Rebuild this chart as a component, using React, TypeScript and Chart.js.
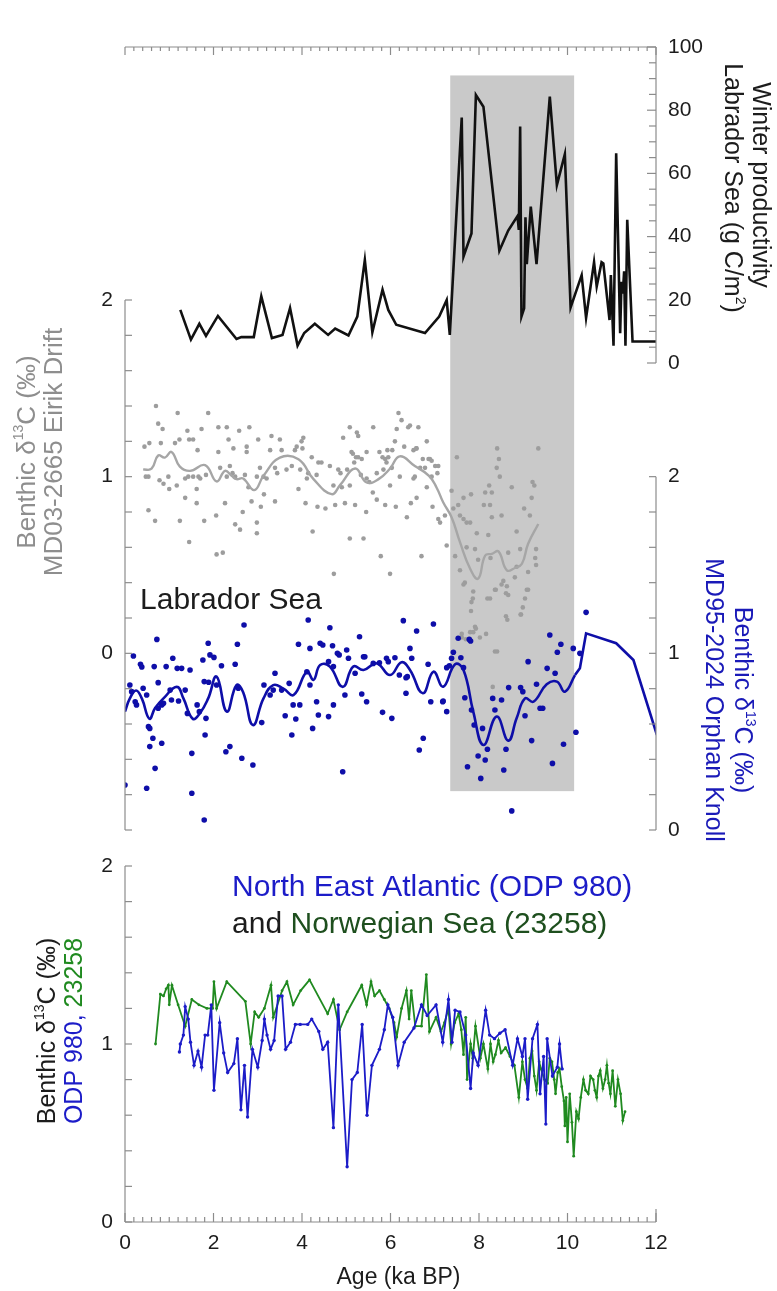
import React, { useEffect, useRef } from "react";
import { Chart, registerables } from "chart.js";

Chart.register(...registerables);

// ---------- page / frame geometry ----------
const W = 777;
const H = 1291;
const AREA = { left: 125, right: 656, top: 47, bottom: 1222 };

// ---------- tick labels ----------
const ageTicks = [0, 2, 4, 6, 8, 10, 12];
const prodTicks = [0, 20, 40, 60, 80, 100];
const eirikTicks = [0, 1, 2];
const orphanTicks = [0, 1, 2];
const bottomTicks = [0, 1, 2];

// ---------- shaded interval (ka BP) ----------
const bandAge = [7.35, 10.15];
const bandProdTop = 91;
const bandEirikBottom = -0.78;

// ---------- Winter productivity, Labrador Sea (g C/m2) ----------
const productivity: [number, number][] = [
  [1.25, 16.8], [1.49, 7.4], [1.68, 12.4], [1.83, 8.6], [2.1, 14.9], [2.52, 7.6], [2.63, 8.2], [2.91, 8.2],
  [3.08, 21.1], [3.32, 7.9], [3.56, 8.9], [3.73, 17.4], [3.9, 5.5], [4.05, 9.5], [4.29, 12.4], [4.59, 8.9],
  [4.75, 10.9], [5.05, 8.7], [5.25, 14.7], [5.42, 32.6], [5.59, 9.7], [5.82, 23.2], [5.95, 16.8], [6.13, 12.1],
  [6.78, 9.5], [7.1, 14.7], [7.27, 19.9], [7.34, 8.9], [7.61, 77.7], [7.65, 33.7], [7.83, 41.0], [7.93, 84.8],
  [8.1, 81.1], [8.46, 35.5], [8.66, 41.9], [8.87, 46.5], [8.9, 42.1], [8.93, 74.8], [8.96, 14.7], [9.02, 17.3],
  [9.05, 46.1], [9.08, 31.3], [9.17, 49.5], [9.3, 31.3], [9.6, 84.3], [9.76, 56.3], [9.94, 66.1], [10.07, 17.6],
  [10.32, 27.8], [10.42, 14.3], [10.6, 31.9], [10.66, 24.2], [10.77, 31.9], [10.81, 31.5], [10.95, 13.6],
  [10.98, 27.8], [11.04, 5.5], [11.1, 66.4], [11.19, 9.4], [11.22, 25.7], [11.25, 22.0], [11.28, 29.0],
  [11.31, 5.5], [11.35, 45.3], [11.47, 6.8], [12.0, 6.8],
];

// ---------- MD03-2665 Eirik Drift benthic d13C ----------
const eirikDots: [number, number][] = [
  [0.7, 1.4], [1.19, 1.36], [1.88, 1.36], [6.18, 1.36], [6.25, 1.32], [0.75, 1.3], [0.85, 1.27], [1.41, 1.26],
  [1.45, 1.21], [1.54, 1.21], [1.73, 1.27], [2.11, 1.28], [2.3, 1.28], [2.58, 1.26], [2.81, 1.28], [3.31, 1.23],
  [3.5, 1.21], [4.03, 1.22], [3.99, 1.2], [3.88, 1.17], [5.08, 1.28], [5.24, 1.25], [5.27, 1.23], [5.61, 1.28],
  [6.14, 1.27], [6.4, 1.28], [6.44, 1.29], [6.63, 1.28], [5.93, 1.15], [5.95, 1.11], [6.31, 1.17], [6.59, 1.16],
  [6.82, 1.2], [0.44, 1.17], [0.55, 1.19], [0.81, 1.19], [1.13, 1.19], [1.23, 1.21], [1.64, 1.15], [2.11, 1.14],
  [2.34, 1.21], [2.45, 1.16], [2.75, 1.17], [2.75, 1.14], [3.01, 1.21], [3.28, 1.15], [3.54, 1.15], [3.84, 1.15],
  [4.01, 1.16], [4.22, 1.11], [4.37, 1.08], [4.44, 1.08], [4.63, 1.06], [4.93, 1.22], [5.12, 1.14], [5.15, 1.13],
  [5.22, 1.11], [5.27, 1.11], [5.35, 1.1], [5.46, 1.14], [5.75, 1.14], [5.82, 1.11], [5.88, 1.1], [6.04, 1.15],
  [6.1, 1.2], [6.52, 1.15], [6.58, 1.16], [6.73, 1.1], [6.86, 1.1], [6.89, 1.1], [6.93, 1.09], [7.01, 1.06],
  [7.08, 1.06], [0.47, 1.0], [0.53, 1.0], [0.78, 0.98], [0.87, 0.96], [0.98, 1.0], [1.36, 0.99], [1.43, 1.0],
  [1.54, 1.0], [1.66, 1.0], [1.7, 0.99], [1.83, 1.01], [2.15, 1.05], [2.3, 1.0], [2.37, 1.06], [2.43, 1.02],
  [2.49, 1.0], [2.71, 1.01], [2.98, 1.0], [3.05, 1.05], [3.13, 1.0], [3.2, 0.99], [3.39, 1.05], [3.44, 1.02],
  [3.65, 1.04], [3.77, 1.06], [3.96, 1.04], [4.11, 0.99], [4.14, 1.02], [4.33, 1.01], [4.71, 0.95], [4.82, 1.04],
  [4.87, 1.02], [5.02, 1.04], [5.08, 0.95], [5.18, 1.08], [5.33, 1.01], [5.46, 0.99], [5.52, 0.97], [5.69, 1.02],
  [5.84, 1.04], [5.91, 1.08], [6.03, 1.05], [6.21, 1.0], [6.52, 0.99], [6.55, 1.0], [6.67, 1.05], [6.78, 1.05],
  [6.93, 1.0], [7.06, 1.02], [0.53, 0.81], [0.68, 0.75], [1.0, 0.93], [1.17, 0.95], [1.24, 0.75], [1.36, 0.88],
  [1.62, 0.85], [1.62, 0.93], [1.79, 0.75], [2.06, 0.78], [2.26, 0.85], [2.49, 0.73], [2.6, 0.7], [2.66, 0.8],
  [2.79, 0.94], [2.86, 0.86], [2.98, 0.74], [2.98, 0.68], [3.07, 0.83], [3.14, 0.9], [3.39, 0.86], [3.92, 0.93],
  [4.08, 0.85], [4.24, 0.69], [4.35, 0.83], [4.53, 0.82], [4.75, 0.84], [4.9, 0.94], [4.97, 0.85], [5.08, 0.65],
  [5.2, 0.84], [5.39, 0.65], [5.45, 0.8], [5.6, 0.91], [5.69, 0.87], [5.78, 0.55], [5.88, 0.84], [5.99, 0.95],
  [6.12, 0.83], [6.37, 0.77], [6.46, 0.85], [6.59, 0.88], [6.7, 0.55], [6.82, 0.94], [6.95, 0.83], [7.08, 0.76],
  [7.12, 0.74], [7.23, 0.78], [7.27, 0.61], [1.45, 0.63], [2.07, 0.56], [2.21, 0.57], [4.72, 0.45], [5.99, 0.45],
  [7.5, 1.11], [7.38, 0.92], [7.42, 0.82], [7.53, 0.84], [7.65, 0.88], [7.82, 0.9], [7.57, 0.78], [7.72, 0.74],
  [7.65, 0.76], [7.8, 0.74], [7.46, 0.55], [7.57, 0.47], [7.68, 0.4], [7.72, 0.6], [7.91, 0.59], [7.95, 0.68],
  [7.98, 0.53], [7.87, 0.35], [7.86, 0.31], [7.82, 0.24], [7.91, 0.15], [8.21, 0.67], [8.11, 0.84], [8.14, 0.91],
  [8.23, 0.95], [8.29, 0.91], [8.25, 0.84], [8.29, 0.77], [8.26, 0.54], [8.41, 1.16], [8.45, 1.1], [8.4, 1.05],
  [8.47, 1.0], [8.51, 0.78], [8.36, 0.36], [8.25, 0.31], [8.19, 0.31], [8.55, 0.41], [8.63, 0.38], [8.66, 0.33],
  [8.74, 0.94], [8.66, 0.57], [8.81, 0.43], [8.85, 0.69], [8.93, 0.59], [8.85, 0.49], [8.95, 0.22], [8.99, 0.26],
  [9.04, 0.31], [9.11, 0.36], [9.11, 0.46], [9.19, 0.88], [9.21, 0.97], [9.25, 0.95], [9.15, 0.78], [9.02, 0.82],
  [9.29, 0.59], [9.27, 0.54], [9.29, 0.5], [9.34, 1.16], [8.61, 0.21], [8.64, 0.19], [7.65, 0.39], [7.83, 0.29],
  [7.93, 0.14], [8.02, 0.09], [8.16, 0.11], [8.38, 0.36], [8.51, 0.39], [8.61, 0.34], [9.08, 0.36], [8.94, 0.22],
  [7.61, 0.11], [7.8, 0.12], [7.7, 0.08], [8.36, 0.01], [8.31, -0.19], [7.61, 0.09], [7.87, 0.12], [8.41, 0.01],
];
const eirikSmooth: [number, number][] = [
  [0.41, 1.04], [0.6, 1.045], [0.75, 1.12], [0.9, 1.108], [1.05, 1.14], [1.24, 1.057], [1.47, 1.033], [1.81, 1.065],
  [2.07, 0.973], [2.26, 1.033], [2.41, 1.005], [2.52, 0.986], [2.67, 0.99], [2.92, 0.924], [3.13, 1.005], [3.5, 1.108],
  [3.92, 1.099], [4.26, 0.986], [4.67, 0.901], [4.86, 0.952], [5.2, 1.046], [5.46, 0.967], [5.73, 0.986], [5.99, 1.046],
  [6.21, 1.115], [6.55, 1.06], [6.87, 1.005], [7.04, 0.939], [7.19, 0.855], [7.38, 0.77], [7.57, 0.629], [7.8, 0.479],
  [7.98, 0.423], [8.14, 0.554], [8.29, 0.563], [8.44, 0.577], [8.63, 0.47], [8.81, 0.483], [8.97, 0.507], [9.11, 0.62],
  [9.34, 0.732],
];

// ---------- MD95-2024 Orphan Knoll benthic d13C ----------
const orphanDots: [number, number][] = [
  [0.0, 0.255], [0.19, 0.985], [0.35, 0.938], [0.38, 0.923], [0.66, 0.925], [0.75, 0.834], [0.93, 0.925], [1.08, 0.972],
  [1.18, 0.915], [1.28, 0.915], [1.76, 0.962], [1.92, 0.991], [2.01, 0.977], [2.18, 0.93], [2.49, 0.938], [3.39, 0.887],
  [3.71, 0.83], [4.11, 0.896], [4.6, 0.953], [4.71, 0.925], [4.84, 0.991], [5.05, 0.972], [5.2, 0.887], [5.39, 0.981],
  [5.42, 0.981], [5.61, 0.943], [5.75, 0.947], [5.91, 0.972], [5.95, 0.953], [6.1, 0.975], [6.2, 0.877], [6.48, 0.972],
  [6.35, 0.862], [6.85, 0.938], [7.27, 0.919], [0.72, 1.079], [1.88, 1.057], [2.54, 1.051], [2.69, 1.16], [3.92, 1.051],
  [4.14, 1.189], [4.18, 1.028], [4.41, 1.057], [4.47, 1.047], [4.63, 1.145], [4.69, 1.043], [4.8, 1.0], [5.01, 1.019],
  [5.3, 1.094], [6.29, 1.185], [6.59, 1.126], [6.97, 1.166], [6.44, 1.028], [0.11, 0.821], [0.15, 0.783], [0.26, 0.708],
  [0.23, 0.726], [0.41, 0.802], [0.49, 0.764], [0.53, 0.585], [0.56, 0.575], [0.63, 0.519], [0.75, 0.689], [0.83, 0.708],
  [0.87, 0.717], [1.02, 0.792], [1.05, 0.736], [1.21, 0.73], [1.36, 0.792], [1.41, 0.66], [1.47, 0.906], [1.63, 0.708],
  [1.68, 0.67], [1.79, 0.84], [1.83, 0.632], [1.89, 0.836], [2.07, 0.821], [2.56, 0.802], [3.09, 0.608], [3.14, 0.821],
  [3.28, 0.764], [3.35, 0.792], [3.54, 0.792], [3.62, 0.647], [3.8, 0.708], [3.86, 0.628], [3.95, 0.708], [4.18, 0.821],
  [4.24, 0.575], [4.33, 0.726], [4.37, 0.651], [4.6, 0.642], [4.71, 0.708], [4.97, 0.764], [5.35, 0.77], [5.46, 0.726],
  [5.82, 0.666], [6.03, 0.632], [6.35, 0.774], [0.56, 0.472], [0.68, 0.349], [0.49, 0.236], [0.83, 0.491], [1.51, 0.434],
  [1.81, 0.538], [2.28, 0.443], [2.37, 0.472], [2.64, 0.406], [2.89, 0.368], [3.77, 0.538], [1.51, 0.208], [1.79, 0.057],
  [4.92, 0.33], [6.65, 0.453], [6.74, 0.519], [7.19, 0.73], [7.27, 0.67], [7.33, 0.93], [7.38, 0.972], [7.42, 1.006],
  [7.53, 1.085], [7.78, 1.079], [7.81, 1.07], [7.59, 0.975], [7.65, 0.919], [7.68, 0.749], [7.83, 0.679], [7.89, 0.594],
  [7.98, 0.419], [8.14, 0.396], [8.19, 0.457], [8.04, 0.292], [7.74, 0.358], [8.08, 0.575], [8.31, 0.745], [8.36, 0.679],
  [8.51, 0.736], [8.61, 0.457], [8.56, 0.34], [8.67, 0.806], [8.94, 0.806], [8.99, 0.783], [9.04, 0.647], [9.11, 0.953],
  [9.19, 0.506], [9.3, 0.825], [9.38, 0.689], [9.44, 0.689], [9.54, 0.915], [9.6, 1.104], [9.72, 0.887], [9.77, 1.006],
  [9.85, 1.051], [9.91, 0.485], [9.66, 0.377], [10.13, 1.028], [10.19, 0.553], [10.28, 1.0], [10.42, 1.232], [8.74, 0.108],
  [6.38, 0.868], [6.91, 0.726], [7.18, 0.726],
];
const orphanSmooth: [number, number][] = [
  [0.0, 0.67], [0.11, 0.745], [0.25, 0.79], [0.38, 0.745], [0.55, 0.63], [0.68, 0.69], [0.87, 0.745], [1.17, 0.81],
  [1.32, 0.745], [1.53, 0.63], [1.69, 0.66], [1.88, 0.745], [2.07, 0.868], [2.3, 0.67], [2.52, 0.82], [2.67, 0.78],
  [2.89, 0.594], [3.13, 0.745], [3.35, 0.82], [3.58, 0.8], [3.81, 0.764], [4.11, 0.896], [4.26, 0.85], [4.41, 0.934],
  [4.63, 0.925], [4.92, 0.81], [5.16, 0.925], [5.39, 0.906], [5.69, 0.943], [5.99, 0.877], [6.25, 0.95], [6.44, 0.906],
  [6.73, 0.774], [6.97, 0.896], [7.19, 0.811], [7.46, 0.938], [7.65, 0.906], [7.87, 0.67], [8.1, 0.481], [8.4, 0.642],
  [8.66, 0.506], [8.85, 0.632], [9.04, 0.745], [9.23, 0.726], [9.53, 0.825], [9.76, 0.84], [9.94, 0.783], [10.17, 0.877],
];
const orphanTail: [number, number][] = [
  [10.17, 0.877], [10.28, 0.915], [10.42, 1.113], [11.1, 1.057], [11.49, 0.962], [12.02, 0.538],
];

// ---------- ODP 980 (North East Atlantic) ----------
const odp980: [number, number][] = [
  [1.23, 0.955], [1.25, 1.0], [1.32, 1.05], [1.36, 1.21], [1.43, 1.14], [1.48, 1.01], [1.56, 0.88], [1.65, 0.96],
  [1.73, 0.87], [1.81, 1.05], [1.87, 1.05], [1.95, 1.22], [2.01, 0.74], [2.14, 1.12], [2.23, 0.95], [2.32, 0.84],
  [2.46, 0.89], [2.54, 1.03], [2.62, 0.63], [2.7, 0.88], [2.77, 0.59], [2.88, 0.97], [3.0, 0.87], [3.1, 1.02],
  [3.15, 1.14], [3.21, 1.05], [3.29, 0.97], [3.37, 1.02], [3.46, 1.27], [3.55, 1.27], [3.63, 0.97], [3.74, 1.01],
  [3.85, 1.11], [3.96, 1.11], [4.13, 1.11], [4.22, 1.14], [4.38, 1.07], [4.47, 0.97], [4.58, 1.01], [4.71, 0.53],
  [4.82, 1.22], [5.02, 0.31], [5.13, 0.8], [5.25, 0.84], [5.36, 1.11], [5.47, 0.6], [5.58, 0.88], [5.75, 0.97],
  [5.86, 1.08], [5.94, 1.22], [6.05, 1.15], [6.17, 0.88], [6.31, 1.01], [6.53, 1.09], [6.7, 1.22], [6.83, 1.16],
  [7.03, 1.22], [7.18, 1.01], [7.31, 1.25], [7.39, 1.01], [7.46, 1.19], [7.57, 1.18], [7.7, 1.05], [7.81, 0.75],
  [7.87, 0.95], [7.98, 0.88], [8.15, 1.19], [8.24, 1.05], [8.35, 1.03], [8.47, 1.06], [8.59, 1.08], [8.76, 0.88],
  [8.87, 1.03], [8.98, 0.93], [9.04, 1.03], [9.1, 0.69], [9.21, 1.03], [9.32, 1.11], [9.38, 0.72], [9.46, 0.93],
  [9.51, 0.55], [9.54, 1.03], [9.66, 0.82], [9.77, 0.87], [9.82, 1.0], [9.88, 0.86],
];

// ---------- 23258 (Norwegian Sea) ----------
const core23258: [number, number][] = [
  [0.69, 1.0], [0.8, 1.28], [0.87, 1.27], [0.93, 1.31], [0.98, 1.33], [1.0, 1.22], [1.06, 1.33], [1.2, 1.22],
  [1.36, 1.1], [1.51, 1.25], [1.67, 1.22], [1.85, 1.2], [1.98, 1.2], [2.01, 1.35], [2.07, 1.2], [2.3, 1.35],
  [2.72, 1.24], [2.84, 1.0], [2.93, 1.18], [3.02, 1.15], [3.15, 1.2], [3.3, 1.33], [3.35, 1.15], [3.55, 1.3],
  [3.66, 1.35], [3.8, 1.22], [3.97, 1.3], [4.17, 1.36], [4.58, 1.17], [4.71, 1.25], [4.85, 1.08], [5.02, 1.18],
  [5.35, 1.33], [5.46, 1.22], [5.56, 1.35], [5.64, 1.27], [5.75, 1.3], [5.86, 1.25], [5.97, 1.2], [6.08, 1.12],
  [6.14, 1.04], [6.25, 1.2], [6.36, 1.3], [6.42, 1.14], [6.47, 1.3], [6.56, 1.1], [6.7, 1.1], [6.81, 1.39],
  [6.88, 1.07], [7.03, 1.15], [7.14, 1.07], [7.22, 1.12], [7.31, 1.2], [7.37, 1.0], [7.45, 1.12], [7.54, 1.17],
  [7.6, 1.08], [7.65, 0.94], [7.7, 1.15], [7.73, 0.8], [7.81, 1.0], [7.86, 0.92], [7.92, 1.1], [8.03, 0.92],
  [8.1, 1.0], [8.2, 0.86], [8.26, 1.0], [8.32, 0.9], [8.37, 0.94], [8.44, 1.02], [8.5, 0.95], [8.6, 0.98],
  [8.7, 0.93], [8.8, 0.88], [8.9, 0.7], [8.98, 0.9], [9.04, 0.8], [9.1, 0.75], [9.15, 0.92], [9.2, 0.96],
  [9.25, 0.82], [9.3, 0.74], [9.36, 0.9], [9.4, 0.86], [9.48, 0.8], [9.55, 0.78], [9.6, 0.92], [9.65, 0.9],
  [9.7, 0.8], [9.73, 0.72], [9.78, 0.84], [9.82, 0.86], [9.87, 0.76], [9.92, 0.68], [9.94, 0.54], [9.97, 0.7],
  [10.0, 0.45], [10.05, 0.72], [10.1, 0.56], [10.14, 0.37], [10.2, 0.62], [10.25, 0.58], [10.3, 0.7], [10.36, 0.8],
  [10.41, 0.74], [10.47, 0.72], [10.52, 0.82], [10.58, 0.8], [10.62, 0.74], [10.66, 0.7], [10.7, 0.82], [10.74, 0.85],
  [10.8, 0.75], [10.85, 0.8], [10.89, 0.88], [10.93, 0.78], [10.97, 0.72], [11.02, 0.85], [11.08, 0.65], [11.14, 0.8],
  [11.2, 0.72], [11.25, 0.57], [11.3, 0.62],
];

// ---------- styling ----------
const FONT = "'Liberation Sans', Arial, Helvetica, sans-serif";
const COL = {
  axis: "#8c8c8c",
  text: "#1c1c1c",
  grayDot: "#9d9d9d",
  grayLine: "#a6a6a6",
  grayTitle: "#8e8e8e",
  blue: "#0e0ea8",
  blueTitle: "#1a1ab8",
  odp: "#1c1cc8",
  green: "#208a20",
  greenText: "#1e4f1e",
  band: "#c9c9c9",
};

// value range such that value v1 sits at pixel p1 and v2 at pixel p2
function span(v1: number, p1: number, v2: number, p2: number) {
  const k = (v2 - v1) / (p2 - p1);
  return { min: v1 + (AREA.bottom - p1) * k, max: v1 + (AREA.top - p1) * k };
}
const prodRange = span(0, 363, 100, AREA.top);
const eirikRange = span(2, 300, -1, 830);
const orphanRange = { min: eirikRange.min + 1, max: eirikRange.max + 1 };
const bottomRange = span(0, AREA.bottom, 2, 866);

type Seg = { t: string; c: string; s?: number; dy?: number };
function drawRich(ctx: CanvasRenderingContext2D, segs: Seg[], x: number, y: number, rot: number, size: number, align: "left" | "center" | "right" = "center") {
  ctx.save();
  ctx.translate(x, y);
  ctx.rotate(rot);
  ctx.textBaseline = "middle";
  ctx.textAlign = "left";
  let total = 0;
  const widths = segs.map((sg) => {
    ctx.font = `${sg.s ?? size}px ${FONT}`;
    const w = ctx.measureText(sg.t).width;
    total += w;
    return w;
  });
  let cx = align === "center" ? -total / 2 : align === "right" ? -total : 0;
  segs.forEach((sg, i) => {
    ctx.font = `${sg.s ?? size}px ${FONT}`;
    ctx.fillStyle = sg.c;
    ctx.fillText(sg.t, cx, sg.dy ?? 0);
    cx += widths[i];
  });
  ctx.restore();
}
const d13C = (c: string, s: number): Seg[] => [
  { t: "Benthic δ", c },
  { t: "13", c, s: Math.round(s * 0.55), dy: -s * 0.33 },
  { t: "C (‰)", c },
];

const bandPlugin = {
  id: "band",
  beforeDatasetsDraw(chart: any) {
    const { ctx, scales } = chart;
    const x0 = scales.x.getPixelForValue(bandAge[0]);
    const x1 = scales.x.getPixelForValue(bandAge[1]);
    const y0 = scales.yProd.getPixelForValue(bandProdTop);
    const y1 = scales.yEirik.getPixelForValue(bandEirikBottom);
    ctx.save();
    ctx.fillStyle = COL.band;
    ctx.fillRect(x0, y0, x1 - x0, y1 - y0);
    ctx.restore();
  },
};

const framePlugin = {
  id: "frame",
  afterDatasetsDraw(chart: any) {
    const { ctx, scales } = chart;
    const sx = scales.x, yP = scales.yProd, yE = scales.yEirik, yO = scales.yOrphan, yB = scales.yBottom;
    const L = sx.getPixelForValue(0);
    const R = sx.getPixelForValue(12);
    ctx.save();
    ctx.strokeStyle = COL.axis;
    ctx.lineWidth = 1.2;
    const line = (a: number, b: number, c: number, d: number) => {
      ctx.beginPath();
      ctx.moveTo(a, b);
      ctx.lineTo(c, d);
      ctx.stroke();
    };
    // top age axis (no labels)
    const yTop = yP.getPixelForValue(100);
    line(L, yTop, R, yTop);
    for (let i = 0; i <= 60; i++) {
      const px = sx.getPixelForValue(i * 0.2);
      line(px, yTop, px, yTop + (i % 10 === 0 ? 8 : 4));
    }
    // bottom age axis
    const yBot = yB.getPixelForValue(0);
    line(L, yBot, R, yBot);
    for (let i = 0; i <= 60; i++) {
      const px = sx.getPixelForValue(i * 0.2);
      line(px, yBot, px, yBot - (i % 10 === 0 ? 9 : 5));
    }
    line(R, yBot, R, yBot - 13);
    // productivity axis (right, top)
    line(R, yP.getPixelForValue(0), R, yP.getPixelForValue(100));
    for (let v = 0; v <= 100; v += 5) {
      const py = yP.getPixelForValue(v);
      line(R, py, R - (v % 20 === 0 ? 9 : 7), py);
    }
    // Eirik axis (left, middle)
    line(L, yE.getPixelForValue(2), L, yE.getPixelForValue(-1));
    for (let i = -5; i <= 10; i++) {
      const py = yE.getPixelForValue(i * 0.2);
      line(L, py, L + 7, py);
    }
    // Orphan axis (right, middle)
    line(R, yO.getPixelForValue(0), R, yO.getPixelForValue(2));
    for (let i = 0; i <= 10; i++) {
      const py = yO.getPixelForValue(i * 0.2);
      line(R, py, R - 7, py);
    }
    // bottom-panel axis (left)
    line(L, yB.getPixelForValue(0), L, yB.getPixelForValue(2));
    for (let i = 0; i <= 10; i++) {
      const py = yB.getPixelForValue(i * 0.2);
      line(L, py, L + 7, py);
    }
    ctx.restore();

    // tick labels
    const TS = 21;
    const label = (t: string, x: number, y: number, align: "left" | "center" | "right") =>
      drawRich(ctx, [{ t, c: COL.text }], x, y, 0, TS, align);
    prodTicks.forEach((v) => label(String(v), R + 12, yP.getPixelForValue(v), "left"));
    eirikTicks.forEach((v) => label(String(v), L - 12, yE.getPixelForValue(v), "right"));
    orphanTicks.forEach((v) => label(String(v), R + 12, yO.getPixelForValue(v), "left"));
    bottomTicks.forEach((v) => label(String(v), L - 12, yB.getPixelForValue(v), "right"));
    ageTicks.forEach((v) => label(String(v), sx.getPixelForValue(v), yBot + 21, "center"));
    drawRich(ctx, [{ t: "Age (ka BP)", c: COL.text }], (L + R) / 2 + 8, yBot + 56, 0, 23);

    // panel annotations
    drawRich(ctx, [{ t: "Labrador Sea", c: COL.text }], sx.getPixelForValue(0.34), yE.getPixelForValue(0.3), 0, 30, "left");
    drawRich(ctx, [{ t: "North East Atlantic (ODP 980)", c: COL.odp }], sx.getPixelForValue(2.42), yB.getPixelForValue(1.88), 0, 30, "left");
    drawRich(ctx, [{ t: "and ", c: COL.text }, { t: "Norwegian Sea (23258)", c: COL.greenText }], sx.getPixelForValue(2.42), yB.getPixelForValue(1.67), 0, 30, "left");

    // axis titles
    const T = 26;
    const up = -Math.PI / 2, down = Math.PI / 2;
    drawRich(ctx, d13C(COL.grayTitle, T), 28, 452, up, T);
    drawRich(ctx, [{ t: "MD03-2665 Eirik Drift", c: COL.grayTitle }], 55, 452, up, T);
    drawRich(ctx, [{ t: "Winter productivity", c: COL.text }], 760, 185, down, 25);
    drawRich(ctx, [{ t: "Labrador Sea (g C/m", c: COL.text }, { t: "2", c: COL.text, s: 14, dy: -8 }, { t: ")", c: COL.text }], 732, 188, down, 25);
    drawRich(ctx, d13C(COL.blueTitle, 25), 742, 700, down, 25);
    drawRich(ctx, [{ t: "MD95-2024 Orphan Knoll", c: COL.blueTitle }], 713, 700, down, 25);
    drawRich(ctx, d13C(COL.text, 25), 48, 1031, up, 25);
    drawRich(ctx, [{ t: "ODP 980, ", c: COL.odp }, { t: "23258", c: COL.green }], 75, 1031, up, 25);
  },
};

const xy = (arr: [number, number][]) => arr.map(([x, y]) => ({ x, y }));

export default function App() {
  const ref = useRef<HTMLCanvasElement | null>(null);
  useEffect(() => {
    if (!ref.current) return;
    const chart = new Chart(ref.current, {
      type: "scatter",
      data: {
        datasets: [
          { data: xy(productivity), yAxisID: "yProd", showLine: true, borderColor: "#111111", borderWidth: 2.6, pointRadius: 0, tension: 0 },
          { data: xy(orphanSmooth), yAxisID: "yOrphan", showLine: true, borderColor: COL.blue, borderWidth: 2.6, pointRadius: 0, tension: 0.45 },
          { data: xy(orphanTail), yAxisID: "yOrphan", showLine: true, borderColor: COL.blue, borderWidth: 2.6, pointRadius: 0, tension: 0 },
          { data: xy(orphanDots), yAxisID: "yOrphan", showLine: false, pointRadius: 2.8, pointBorderWidth: 0, backgroundColor: COL.blue },
          { data: xy(eirikSmooth), yAxisID: "yEirik", showLine: true, borderColor: COL.grayLine, borderWidth: 2.4, pointRadius: 0, tension: 0.45 },
          { data: xy(eirikDots), yAxisID: "yEirik", showLine: false, pointRadius: 2.3, pointBorderWidth: 0, backgroundColor: COL.grayDot },
          { data: xy(odp980), yAxisID: "yBottom", showLine: true, borderColor: COL.odp, backgroundColor: COL.odp, borderWidth: 1.8, pointRadius: 1.7, pointBorderWidth: 0, tension: 0 },
          { data: xy(core23258), yAxisID: "yBottom", showLine: true, borderColor: COL.green, backgroundColor: COL.green, borderWidth: 1.8, pointRadius: 1.4, pointBorderWidth: 0, tension: 0 },
        ],
      },
      options: {
        animation: false,
        responsive: false,
        maintainAspectRatio: false,
        events: [],
        layout: { padding: { left: AREA.left, right: W - AREA.right, top: AREA.top, bottom: H - AREA.bottom } },
        plugins: { legend: { display: false }, tooltip: { enabled: false } },
        scales: {
          x: { type: "linear", min: 0, max: 12, display: false },
          y: { type: "linear", display: false },
          yProd: { type: "linear", min: prodRange.min, max: prodRange.max, display: false },
          yEirik: { type: "linear", min: eirikRange.min, max: eirikRange.max, display: false },
          yOrphan: { type: "linear", min: orphanRange.min, max: orphanRange.max, display: false },
          yBottom: { type: "linear", min: bottomRange.min, max: bottomRange.max, display: false },
        },
      },
      plugins: [bandPlugin, framePlugin],
    } as any);
    return () => chart.destroy();
  }, []);
  return (
    <div style={{ position: "absolute", left: 0, top: 0, width: W, height: H, background: "#ffffff" }}>
      <canvas ref={ref} width={W} height={H} style={{ display: "block", width: W, height: H }} />
    </div>
  );
}
